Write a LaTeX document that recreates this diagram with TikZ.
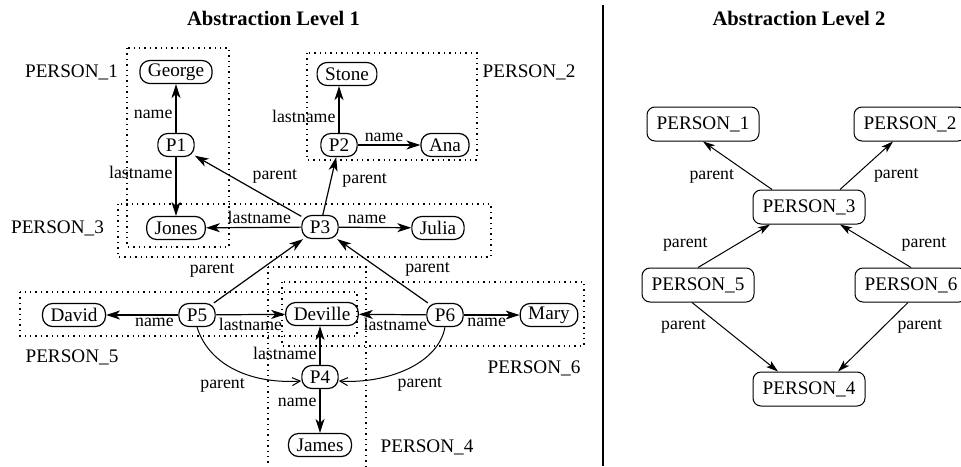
\documentclass[tikz,border=0pt]{standalone}
\usepackage{fontspec}
\setmainfont{Liberation Serif}
\usetikzlibrary{arrows.meta,calc,positioning}
\tikzset{>={Stealth[length=7pt,width=4.5pt,inset=2pt]}}
\tikzset{
  val/.style={draw, rounded corners=5pt, line width=0.6pt, inner xsep=4pt, inner ysep=0pt,
    minimum height=11.5pt, font=\fontsize{9.6}{11}\selectfont},
  grp/.style={dotted, line width=0.7pt},
  grpname/.style={font=\fontsize{9.6}{11}\selectfont},
  lbl/.style={font=\fontsize{8.9}{10}\selectfont, inner sep=1.5pt},
  rel/.style={->, line width=0.6pt},
  bent/.style={-{Straight Barb[length=4pt,width=4pt]}, line width=0.5pt},
  cls/.style={draw, rounded corners=4pt, line width=0.5pt, inner xsep=4.8pt,
    minimum height=17pt, font=\fontsize{9.6}{11}\selectfont},
  hier/.style={-{Stealth[length=6pt,width=3.8pt,inset=1.5pt]}, line width=0.5pt},
  title/.style={font=\fontsize{10.3}{12}\bfseries}
}

\begin{document}
\begin{tikzpicture}[x=0.5pt, y=-0.5pt]
  \useasboundingbox (0,0) rectangle (961,466);

  % titles and divider
  \node[title] (title1) at (273.5,18) {Abstraction Level 1};
  \node[title] (title2) at (799,18) {Abstraction Level 2};
  \draw[line width=0.8pt] (603,5) -- (603,466);

  % groups (level 1)
  \draw[grp] (127,48) rectangle (229,247);
  \draw[grp] (307,53) rectangle (477,160);
  \draw[grp] (118,204) rectangle (491,257);
  \draw[grp] (20,292) rectangle (357,336);
  \draw[grp] (282,282) rectangle (584,346);
  \draw[grp] (268,267) rectangle (366,480);

  \node[grpname] (g1) at (71.5,72) {PERSON\_1};
  \node[grpname] (g2) at (529,72) {PERSON\_2};
  \node[grpname] (g3) at (57.5,228) {PERSON\_3};
  \node[grpname] (g5) at (72,357) {PERSON\_5};
  \node[grpname] (g6) at (534,368) {PERSON\_6};
  \node[grpname] (g4) at (427,447) {PERSON\_4};

  % level 1 nodes
  \node[val] (george) at (176,72)  {George};
  \node[val] (p1)     at (176,145) {P1};
  \node[val] (jones)  at (176,228) {Jones};
  \node[val] (stone)  at (347,74)  {Stone};
  \node[val] (p2)     at (339,145) {P2};
  \node[val] (ana)    at (445,145) {Ana};
  \node[val] (p3)     at (320,227) {P3};
  \node[val] (julia)  at (438,228) {Julia};
  \node[val] (david)  at (74,315)  {David};
  \node[val] (p5)     at (197,315) {P5};
  \node[val] (deville) at (322,314) {Deville};
  \node[val] (p6)     at (445,315) {P6};
  \node[val] (mary)   at (549,315) {Mary};
  \node[val] (p4)     at (320,377) {P4};
  \node[val] (james)  at (320,445) {James};

  \draw[rel] (p1) -- node[lbl, pos=0.37, left] {name} (george);
  \draw[rel] (p1) -- node[lbl, pos=0.26, left] {lastname} (jones);
  \draw[rel] (p3) -- node[lbl, pos=0.49, above right] {parent} (p1);
  \draw[rel] (p3) -- node[lbl, pos=0.44, above] {lastname} (jones);
  \draw[rel] (p3) -- node[lbl, pos=0.6, right=4pt] {parent} (p2);
  \draw[rel] (p2.north) -- node[lbl, pos=0.35, left] {lastname} (p2.north |- stone.south);
  \draw[rel] (p2) -- node[lbl, pos=0.42, above] {name} (ana);
  \draw[rel] (p3) -- node[lbl, pos=0.39, above] {name} (julia);
  \draw[rel] (p5) -- node[lbl, pos=0.3, above left=2pt] {parent} (p3);
  \draw[rel] (p6) -- node[lbl, pos=0.32, above right=2pt] {parent} (p3);
  \draw[rel] (p5) -- node[lbl, pos=0.33, below] {name} (david);
  \draw[rel] (p5) -- node[lbl, pos=0.5, below] {lastname} (deville);
  \draw[rel] (p6) -- node[lbl, pos=0.46, below] {lastname} (deville);
  \draw[rel] (p6) -- node[lbl, pos=0.41, below] {name} (mary);
  \draw[rel] (p4.north) -- node[lbl, pos=0.29, left] {lastname} (p4.north |- deville.south);
  \draw[rel] (p4) -- node[lbl, pos=0.3, left] {name} (james);
  \draw[bent] (p5.south) .. controls (210,368) and (255,384) .. ([shift={(0,4)}]p4.west)
    node[lbl, pos=0.6, below left] {parent};
  \draw[bent] (p6.south) .. controls (438,365) and (385,384) .. ([shift={(0,4)}]p4.east)
    node[lbl, pos=0.6, below right] {parent};

  % level 2
  \node[cls] (r1) at (703,124) {PERSON\_1};
  \node[cls] (r2) at (910,124) {PERSON\_2};
  \node[cls] (r3) at (809,207) {PERSON\_3};
  \node[cls] (r5) at (698,285) {PERSON\_5};
  \node[cls] (r6) at (911,285) {PERSON\_6};
  \node[cls] (r4) at (809,389) {PERSON\_4};

  \draw[hier] ([shift={(-37,0)}]r3.north) -- node[lbl, pos=0.5, below left] {parent} (r1.south);
  \draw[hier] ([shift={(31,0)}]r3.north) -- node[lbl, pos=0.55, below right=1pt] {parent} ([shift={(-17,0)}]r2.south);
  \draw[hier] (r5.north) -- node[lbl, pos=0.22, above left=2pt] {parent} ([shift={(-39,0)}]r3.south);
  \draw[hier] (r6.north) -- node[lbl, pos=0.22, above right=2pt] {parent} ([shift={(31,0)}]r3.south);
  \draw[hier] ([shift={(-6,0)}]r5.south) -- node[lbl, pos=0.2, below left] {parent} ([shift={(-31,0)}]r4.north);
  \draw[hier] ([shift={(-3,0)}]r6.south) -- node[lbl, pos=0.2, below right] {parent} ([shift={(29,0)}]r4.north);
\end{tikzpicture}
\end{document}
